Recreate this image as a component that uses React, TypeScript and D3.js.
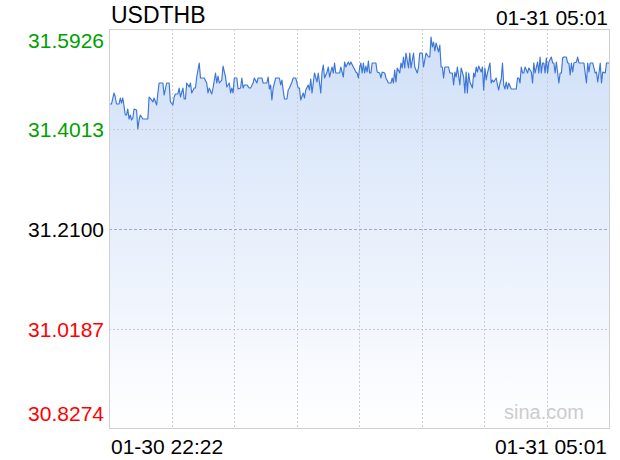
import React from "react";
import * as d3 from "d3";

const title = "USDTHB";
const lastTime = "01-31 05:01";
const startLabel = "01-30 22:22";
const endLabel = "01-31 05:01";
const prevClose = 31.21;
const yTicks = [31.5926, 31.4013, 31.21, 31.0187, 30.8274];
const totalMinutes = 399;

// minutes after 01-30 22:22
const minutes = [
  0, 2, 4, 5, 6, 8, 9, 10, 11, 12, 13, 14, 15, 16, 17, 18, 19, 20, 22, 23, 24, 25, 27, 28, 31, 32, 34, 35, 36, 38, 39, 40, 43, 44, 46, 48, 49, 51, 52, 53, 55, 56, 57, 59, 60, 61, 62, 64, 65, 66, 68, 69, 70, 72, 73, 76, 78, 79, 80, 82, 83, 85, 86, 87, 88, 90, 91, 93, 94, 96, 97, 98, 99,
  100, 102, 103, 105, 106, 107, 108, 110, 112, 113, 115, 116, 118, 119, 122, 123, 126, 127, 128, 129, 130, 131, 133, 136, 137, 138, 139, 140, 142, 143, 144, 146, 147, 149, 151, 152, 153, 155, 156, 157, 159, 160, 161, 162, 163, 164, 166, 167, 169, 170, 171, 172, 174, 175, 176, 178, 179, 180, 181, 184, 185, 187, 188, 189, 191, 192, 193, 195, 197, 198,
  199, 200, 201, 202, 203, 204, 205, 206, 207, 208, 209, 210, 213, 214, 216, 217, 218, 220, 221, 223, 225, 226, 227, 228, 229, 230, 232, 233, 234, 235, 236, 237, 239, 240, 241, 243, 244, 246, 247, 248, 250, 251, 253, 255, 256, 257, 258, 259, 260, 261, 263, 264, 265, 266, 267, 268, 271, 272, 274, 275, 276, 277, 278, 280, 281, 282, 283, 284, 285, 286, 287, 288, 290, 291, 292, 293, 294, 295, 297, 298, 299,
  300, 301, 302, 304, 305, 306, 307, 309, 310, 311, 312, 313, 314, 315, 316, 317, 318, 319, 321, 325, 326, 327, 328, 329, 330, 331, 332, 334, 335, 337, 338, 339, 340, 342, 343, 344, 345, 346, 347, 348, 349, 350, 351, 353, 354, 355, 356, 357, 359, 360, 361, 362, 363, 365, 366, 367, 368, 369, 370, 371, 373, 374, 375, 379, 381, 382, 383, 384, 386, 388, 389, 390, 391, 392, 393, 394, 396, 397, 398, 399,
];

const prices = [
  31.4491, 31.4491, 31.4702, 31.4625, 31.4491, 31.4491, 31.4606, 31.451, 31.4606, 31.4453, 31.4281, 31.4281, 31.4396, 31.4204, 31.4281, 31.4185, 31.4223, 31.4396, 31.4376, 31.4013, 31.4185, 31.4281, 31.4204, 31.4204, 31.4204, 31.4625, 31.4568, 31.453, 31.4606, 31.4472, 31.4702, 31.4893, 31.4893, 31.4663, 31.4893, 31.4893, 31.453, 31.4472, 31.4625, 31.4683, 31.4683, 31.4797, 31.4625, 31.4797, 31.4587, 31.4587, 31.4893, 31.4816, 31.4893, 31.4702, 31.4797, 31.4797, 31.5008, 31.5276, 31.4989, 31.4989, 31.4893, 31.4702, 31.4797, 31.4683, 31.4797, 31.5084, 31.4893, 31.5027, 31.4893, 31.495, 31.5218, 31.5008, 31.4816, 31.4893, 31.4702, 31.4797, 31.4702,
  31.4989, 31.4989, 31.4778, 31.4797, 31.4989, 31.4797, 31.4855, 31.4855, 31.4797, 31.4797, 31.4893, 31.4989, 31.4893, 31.4989, 31.4989, 31.4893, 31.4893, 31.5008, 31.4778, 31.4855, 31.4568, 31.4797, 31.4989, 31.4989, 31.4855, 31.495, 31.4759, 31.4587, 31.4587, 31.4759, 31.4797, 31.4912, 31.4989, 31.4989, 31.4797, 31.4797, 31.4568, 31.4702, 31.4606, 31.4759, 31.4855, 31.4759, 31.497, 31.4702, 31.4893, 31.5084, 31.4912, 31.5084, 31.4702, 31.5103, 31.5237, 31.4989, 31.5103, 31.5199, 31.5008, 31.5199, 31.5084, 31.5276, 31.5084, 31.5084, 31.5199, 31.5008, 31.5295, 31.5199, 31.5295, 31.5237, 31.5295, 31.5199, 31.5103, 31.5084,
  31.4989, 31.518, 31.5276, 31.5084, 31.5276, 31.5084, 31.5218, 31.5103, 31.5314, 31.5084, 31.5084, 31.5276, 31.5276, 31.5103, 31.5084, 31.4989, 31.5103, 31.5084, 31.4989, 31.4893, 31.4893, 31.4989, 31.4893, 31.5142, 31.4912, 31.518, 31.5084, 31.5276, 31.518, 31.539, 31.518, 31.5467, 31.518, 31.5467, 31.518, 31.5467, 31.5199, 31.5084, 31.5199, 31.5467, 31.5467, 31.5199, 31.5467, 31.539, 31.539, 31.5773, 31.5582, 31.5677, 31.5505, 31.5658, 31.5486, 31.562, 31.5199, 31.5199, 31.4989, 31.5199, 31.5199, 31.5084, 31.5084, 31.4855, 31.5103, 31.5008, 31.5199, 31.4855, 31.518, 31.5103, 31.5008, 31.4702, 31.5103, 31.4702, 31.5084, 31.4912, 31.4797, 31.5084, 31.5008, 31.5199, 31.5103, 31.5218, 31.5103, 31.5199, 31.4759,
  31.518, 31.495, 31.5084, 31.5276, 31.4893, 31.495, 31.4912, 31.4989, 31.4855, 31.4759, 31.4893, 31.497, 31.5276, 31.4855, 31.4778, 31.4912, 31.4778, 31.4893, 31.4778, 31.4778, 31.4989, 31.4989, 31.4893, 31.5199, 31.5084, 31.5084, 31.5199, 31.5084, 31.518, 31.5103, 31.4893, 31.5276, 31.5084, 31.5295, 31.5084, 31.539, 31.5084, 31.5276, 31.5276, 31.5084, 31.5371, 31.5084, 31.5295, 31.539, 31.5276, 31.5276, 31.5084, 31.5295, 31.4893, 31.5084, 31.5084, 31.5371, 31.539, 31.539, 31.5276, 31.5276, 31.5046, 31.5276, 31.5103, 31.5276, 31.5295, 31.539, 31.5276, 31.5276, 31.4893, 31.5276, 31.5103, 31.5276, 31.5276, 31.5084, 31.5103, 31.4912, 31.5084, 31.5276, 31.4893, 31.5103, 31.5084, 31.5276, 31.5276, 31.5276,
];

const W = 620;
const H = 460;
const left = 109;
const right = 609;
const top = 29;
const bottom = 429;
const FONT = "'Liberation Sans', Arial, Helvetica, sans-serif";

export default function App() {
  const x = d3.scaleLinear().domain([0, totalMinutes]).range([left, right]);
  const y = d3
    .scaleLinear()
    .domain([yTicks[yTicks.length - 1], yTicks[0]])
    .range([bottom, top]);

  const data = minutes.map((m, i) => ({ m, p: prices[i] }));
  const line = d3
    .line<{ m: number; p: number }>()
    .x((d) => x(d.m))
    .y((d) => y(d.p));
  const area = d3
    .area<{ m: number; p: number }>()
    .x((d) => x(d.m))
    .y0(y(yTicks[yTicks.length - 1]))
    .y1((d) => y(d.p));

  const vGrid = d3.range(1, 8).map((k) => x((k * totalMinutes) / 8));

  const labelColor = (v: number) =>
    Math.abs(v - prevClose) < 1e-9 ? "#000" : v > prevClose ? "#00a000" : "#ff0000";

  return (
    <div style={{ position: "fixed", left: 0, top: 0 }}>
      <svg width={W} height={H} style={{ display: "block", background: "#fff" }}>
        <defs>
          <linearGradient id="fillGrad" gradientUnits="userSpaceOnUse" x1={0} y1={top} x2={0} y2={bottom}>
            <stop offset="0%" stopColor="#cfdff8" />
            <stop offset="100%" stopColor="#ffffff" />
          </linearGradient>
        </defs>

        <path d={area(data) ?? ""} fill="url(#fillGrad)" />

        {vGrid.map((gx, i) => (
          <line
            key={"v" + i}
            x1={Math.round(gx) + 0.5}
            x2={Math.round(gx) + 0.5}
            y1={top}
            y2={bottom}
            stroke="#cccccc"
            strokeDasharray="2,2"
          />
        ))}
        {yTicks.slice(1, -1).map((v, i) => {
          const gy = Math.round(y(v)) + 0.5;
          const isMid = Math.abs(v - prevClose) < 1e-9;
          return (
            <line
              key={"h" + i}
              x1={left}
              x2={right}
              y1={gy}
              y2={gy}
              stroke={isMid ? "#a8a8c4" : "#cccccc"}
              strokeDasharray={isMid ? "3,2" : "2,2"}
            />
          );
        })}

        <path d={line(data) ?? ""} fill="none" stroke="#3c76d6" strokeWidth={1.15} strokeLinejoin="round" />

        <rect
          x={left + 0.5}
          y={top + 0.5}
          width={right - left}
          height={bottom - top - 1}
          fill="none"
          stroke="#d0d0d0"
        />

        <text x={584} y={419} fontFamily={FONT} fontSize={20} fill="#cccccc" textAnchor="end">
          sina.com
        </text>

        {yTicks.map((v, i) => {
          let by = y(v) + 8;
          if (i === 0) by = y(v) + 19;
          if (i === yTicks.length - 1) by = y(v) - 8;
          return (
            <text
              key={"yl" + i}
              x={104}
              y={by}
              textAnchor="end"
              fontFamily={FONT}
              fontSize={21}
              fill={labelColor(v)}
            >
              {v.toFixed(4)}
            </text>
          );
        })}

        <text x={111} y={23} fontFamily={FONT} fontSize={23} fill="#000">
          {title}
        </text>
        <text x={608} y={25} fontFamily={FONT} fontSize={21} fill="#000" textAnchor="end">
          {lastTime}
        </text>
        <text x={111} y={454} fontFamily={FONT} fontSize={21} fill="#000">
          {startLabel}
        </text>
        <text x={607} y={454} fontFamily={FONT} fontSize={21} fill="#000" textAnchor="end">
          {endLabel}
        </text>
      </svg>
    </div>
  );
}
